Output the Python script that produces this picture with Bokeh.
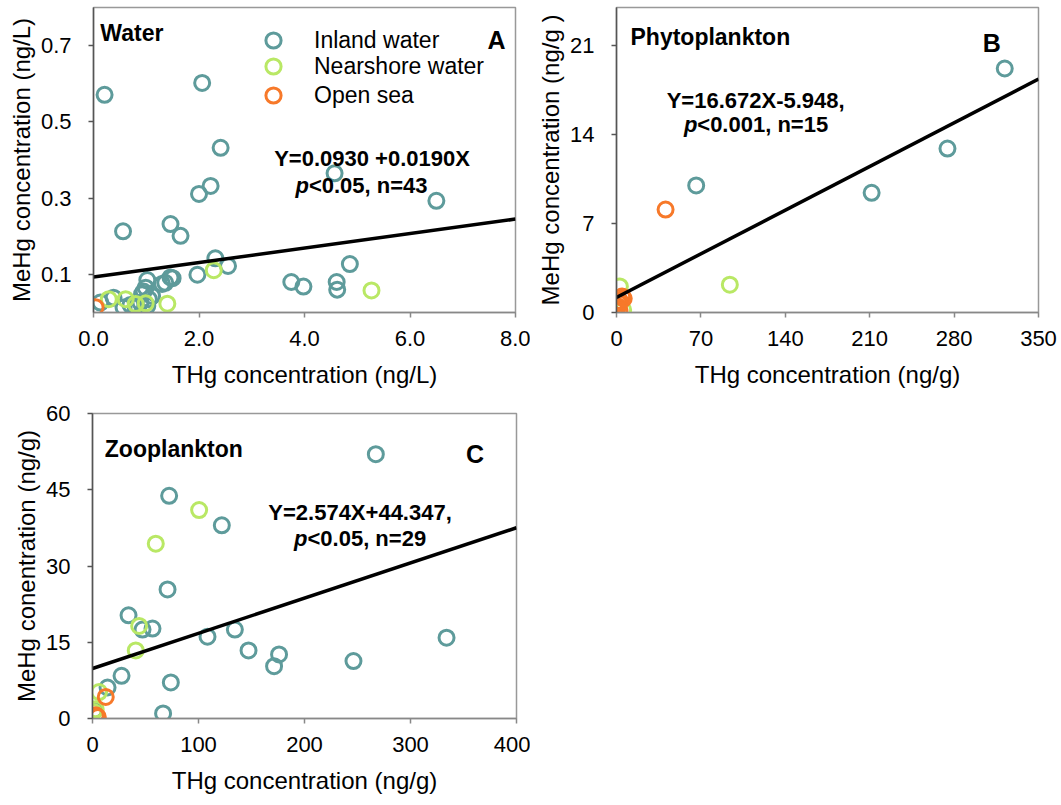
from bokeh.plotting import figure
from bokeh.models import FixedTicker, NumeralTickFormatter, Range1d, Label, Legend, LegendItem
from bokeh.layouts import column, row
from bokeh.embed import file_html
from bokeh.resources import INLINE

# ---------------- data ----------------
# Panel A: Water (THg ng/L vs MeHg ng/L)
water_inland_x = [0.21, 2.06, 2.41, 4.57, 2.22, 2.00, 6.50, 0.56, 1.46, 1.65, 2.31, 2.55, 1.97, 4.86,
                  3.75, 3.98, 4.61, 4.62, 1.46, 1.36, 1.02, 0.99, 0.92, 1.11, 0.89, 0.13, 0.38, 0.57,
                  0.80, 1.02, 1.30, 1.50, 0.95, 1.05, 0.70]
water_inland_y = [0.571, 0.602, 0.432, 0.365, 0.332, 0.311, 0.293, 0.213, 0.232, 0.201, 0.142, 0.122,
                  0.099, 0.127, 0.080, 0.068, 0.080, 0.060, 0.092, 0.078, 0.085, 0.065, 0.048, 0.043,
                  0.026, 0.026, 0.039, 0.013, 0.014, 0.017, 0.075, 0.090, 0.055, 0.035, 0.020]
water_near_x = [0.29, 0.61, 0.80, 0.99, 1.40, 2.28, 5.27]
water_near_y = [0.035, 0.035, 0.022, 0.024, 0.023, 0.111, 0.058]
water_open_x = [0.04]
water_open_y = [0.014]
water_fit = [0.0930, 0.0190]          # intercept, slope

# Panel B: Phytoplankton (ng/g)
phyto_inland_x = [322.0, 274.5, 211.6, 66.1]
phyto_inland_y = [19.2, 12.9, 9.42, 10.0]
phyto_near_x = [94.0, 2.8, 5.5]
phyto_near_y = [2.19, 2.05, 0.21]
phyto_open_x = [40.7, 1.9, 4.7, 0.5, 3.0, 1.0, 2.5, 6.0]
phyto_open_y = [8.1, 0.73, 1.26, 0.34, 0.9, 0.5, 0.2, 1.1]
phyto_fit = [1.18, 0.0491]

# Panel C: Zooplankton (ng/g)
zoo_inland_x = [267.3, 72.3, 122.0, 70.8, 34.0, 56.6, 47.2, 108.5, 134.3, 147.2, 176.0, 171.3, 246.2,
                334.0, 27.4, 73.9, 66.6, 14.2, 1.5]
zoo_inland_y = [52.0, 43.8, 38.0, 25.4, 20.3, 17.7, 17.5, 16.1, 17.5, 13.4, 12.6, 10.3, 11.3, 15.9,
                8.4, 7.1, 1.0, 6.1, 1.6]
zoo_near_x = [100.6, 59.7, 44.0, 40.8, 6.2, 1.0, 3.0]
zoo_near_y = [41.0, 34.4, 18.2, 13.4, 5.2, 1.3, 1.8]
zoo_open_x = [12.5, 3.1, 5.0]
zoo_open_y = [4.25, 0.65, 0.3]
zoo_fit = [9.84, 0.0692]

series_names = ["Inland water", "Nearshore water", "Open sea"]
series_colors = ["#5e9b9b", "#b9e865", "#f7792a"]

FONT = "Liberation Sans"


def make_panel(width, height, borders, xr, yr, xticks, yticks, xfmt, yfmt, xlabel, ylabel):
    left, right, top, bottom = borders
    p = figure(width=width, height=height, output_backend="svg", toolbar_location=None,
               x_range=Range1d(*xr), y_range=Range1d(*yr),
               min_border_left=left, min_border_right=right, min_border_top=top,
               min_border_bottom=bottom)
    p.grid.visible = False
    p.outline_line_color = "#999999"
    p.outline_line_width = 1.5
    p.background_fill_color = "white"
    p.border_fill_color = "white"
    p.xaxis.ticker = FixedTicker(ticks=xticks)
    p.yaxis.ticker = FixedTicker(ticks=yticks)
    p.xaxis.formatter = NumeralTickFormatter(format=xfmt)
    p.yaxis.formatter = NumeralTickFormatter(format=yfmt)
    for ax, col in ((p.xaxis, "#888888"), (p.yaxis, "#555555")):
        ax.axis_line_color = col
        ax.axis_line_width = 1.5
        ax.major_tick_line_color = col
        ax.major_tick_line_width = 1.5
        ax.major_tick_in = 0
        ax.major_tick_out = 5
        ax.minor_tick_line_color = None
        ax.major_label_text_font = FONT
        ax.major_label_text_font_size = "22px"
        ax.major_label_text_color = "black"
        ax.axis_label_text_font = FONT
        ax.axis_label_text_font_size = "24px"
        ax.axis_label_text_font_style = "normal"
        ax.axis_label_text_color = "black"
    p.xaxis.major_label_standoff = 13
    p.yaxis.major_label_standoff = 17
    p.xaxis.axis_label_standoff = 12
    p.yaxis.axis_label_standoff = 3
    p.xaxis.axis_label = xlabel
    p.yaxis.axis_label = ylabel
    return p


def add_points(p, xs, ys):
    rends = []
    for x, y, c in zip(xs, ys, series_colors):
        r = p.scatter(x, y, marker="circle", size=15, fill_color=None, line_color=c, line_width=3)
        rends.append(r)
    return rends


def add_fit(p, fit, xr):
    a, b = fit
    xe = list(xr)
    p.line(xe, [a + b * v for v in xe], line_color="black", line_width=3.5)


def lab(p, x, y, text, size="22px", style="bold", align="left"):
    p.add_layout(Label(x=x, y=y, text=text, text_font=FONT, text_font_size=size,
                       text_font_style=style, text_align=align, text_baseline="alphabetic",
                       text_color="black"))


# ---------------- Panel A ----------------
pA = make_panel(530, 400, (93, 15, 7, 88), (0, 8), (0, 0.8), [0, 2, 4, 6, 8], [0.1, 0.3, 0.5, 0.7],
                "0.0", "0.0", "THg concentration (ng/L)", "MeHg concentration (ng/L)")
rA = add_points(pA, [water_inland_x, water_near_x, water_open_x], [water_inland_y, water_near_y, water_open_y])
add_fit(pA, water_fit, (0, 8))
lab(pA, 0.13, 0.732, "Water", size="23px")
lab(pA, 7.81, 0.714, "A", size="25px", align="right")
lab(pA, 5.28, 0.403, "Y=0.0930 +0.0190X", align="center")
lab(pA, 3.83, 0.333, "p", style="bold italic")
lab(pA, 4.083, 0.333, "<0.05, n=43")
legend_rows = [253, 227, 198]
for name, r, ly in zip(series_names, rA, legend_rows):
    pA.add_layout(Legend(items=[LegendItem(label=name, renderers=[r])],
                         location=(161, ly), padding=0, spacing=0, margin=0,
                         glyph_width=38, glyph_height=38, label_height=38, label_standoff=22,
                         label_text_font=FONT, label_text_font_size="23px", label_text_color="black",
                         border_line_alpha=0, background_fill_alpha=0))

# ---------------- Panel B ----------------
pB = make_panel(530, 400, (86, 22, 7, 88), (0, 350), (0, 24), [0, 70, 140, 210, 280, 350], [0, 7, 14, 21],
                "0", "0", "THg concentration (ng/g)", "MeHg concentration (ng/g )")
add_points(pB, [phyto_inland_x, phyto_near_x, phyto_open_x], [phyto_inland_y, phyto_near_y, phyto_open_y])
add_fit(pB, phyto_fit, (0, 350))
lab(pB, 11.6, 21.7, "Phytoplankton", size="23px")
lab(pB, 318.7, 21.18, "B", size="25px", align="right")
lab(pB, 115.4, 16.65, "Y=16.672X-5.948,", align="center")
lab(pB, 55.9, 14.76, "p", style="bold italic")
lab(pB, 67.0, 14.76, "<0.001, n=15")

# ---------------- Panel C ----------------
pC = make_panel(530, 404, (92, 14, 13, 86), (0, 400), (0, 60), [0, 100, 200, 300, 400], [0, 15, 30, 45, 60],
                "0", "0", "THg concentration (ng/g)", "MeHg conentration (ng/g)")
add_points(pC, [zoo_inland_x, zoo_near_x, zoo_open_x], [zoo_inland_y, zoo_near_y, zoo_open_y])
add_fit(pC, zoo_fit, (0, 400))
lab(pC, 11.6, 53.1, "Zooplankton", size="23px")
lab(pC, 369.4, 52.1, "C", size="25px", align="right")
lab(pC, 252.4, 40.45, "Y=2.574X+44.347,", align="center")
lab(pC, 190.2, 35.4, "p", style="bold italic")
lab(pC, 202.8, 35.4, "<0.05, n=29")

layout = column(row(pA, pB), pC)
open("out.html", "w").write(file_html(layout, INLINE))
